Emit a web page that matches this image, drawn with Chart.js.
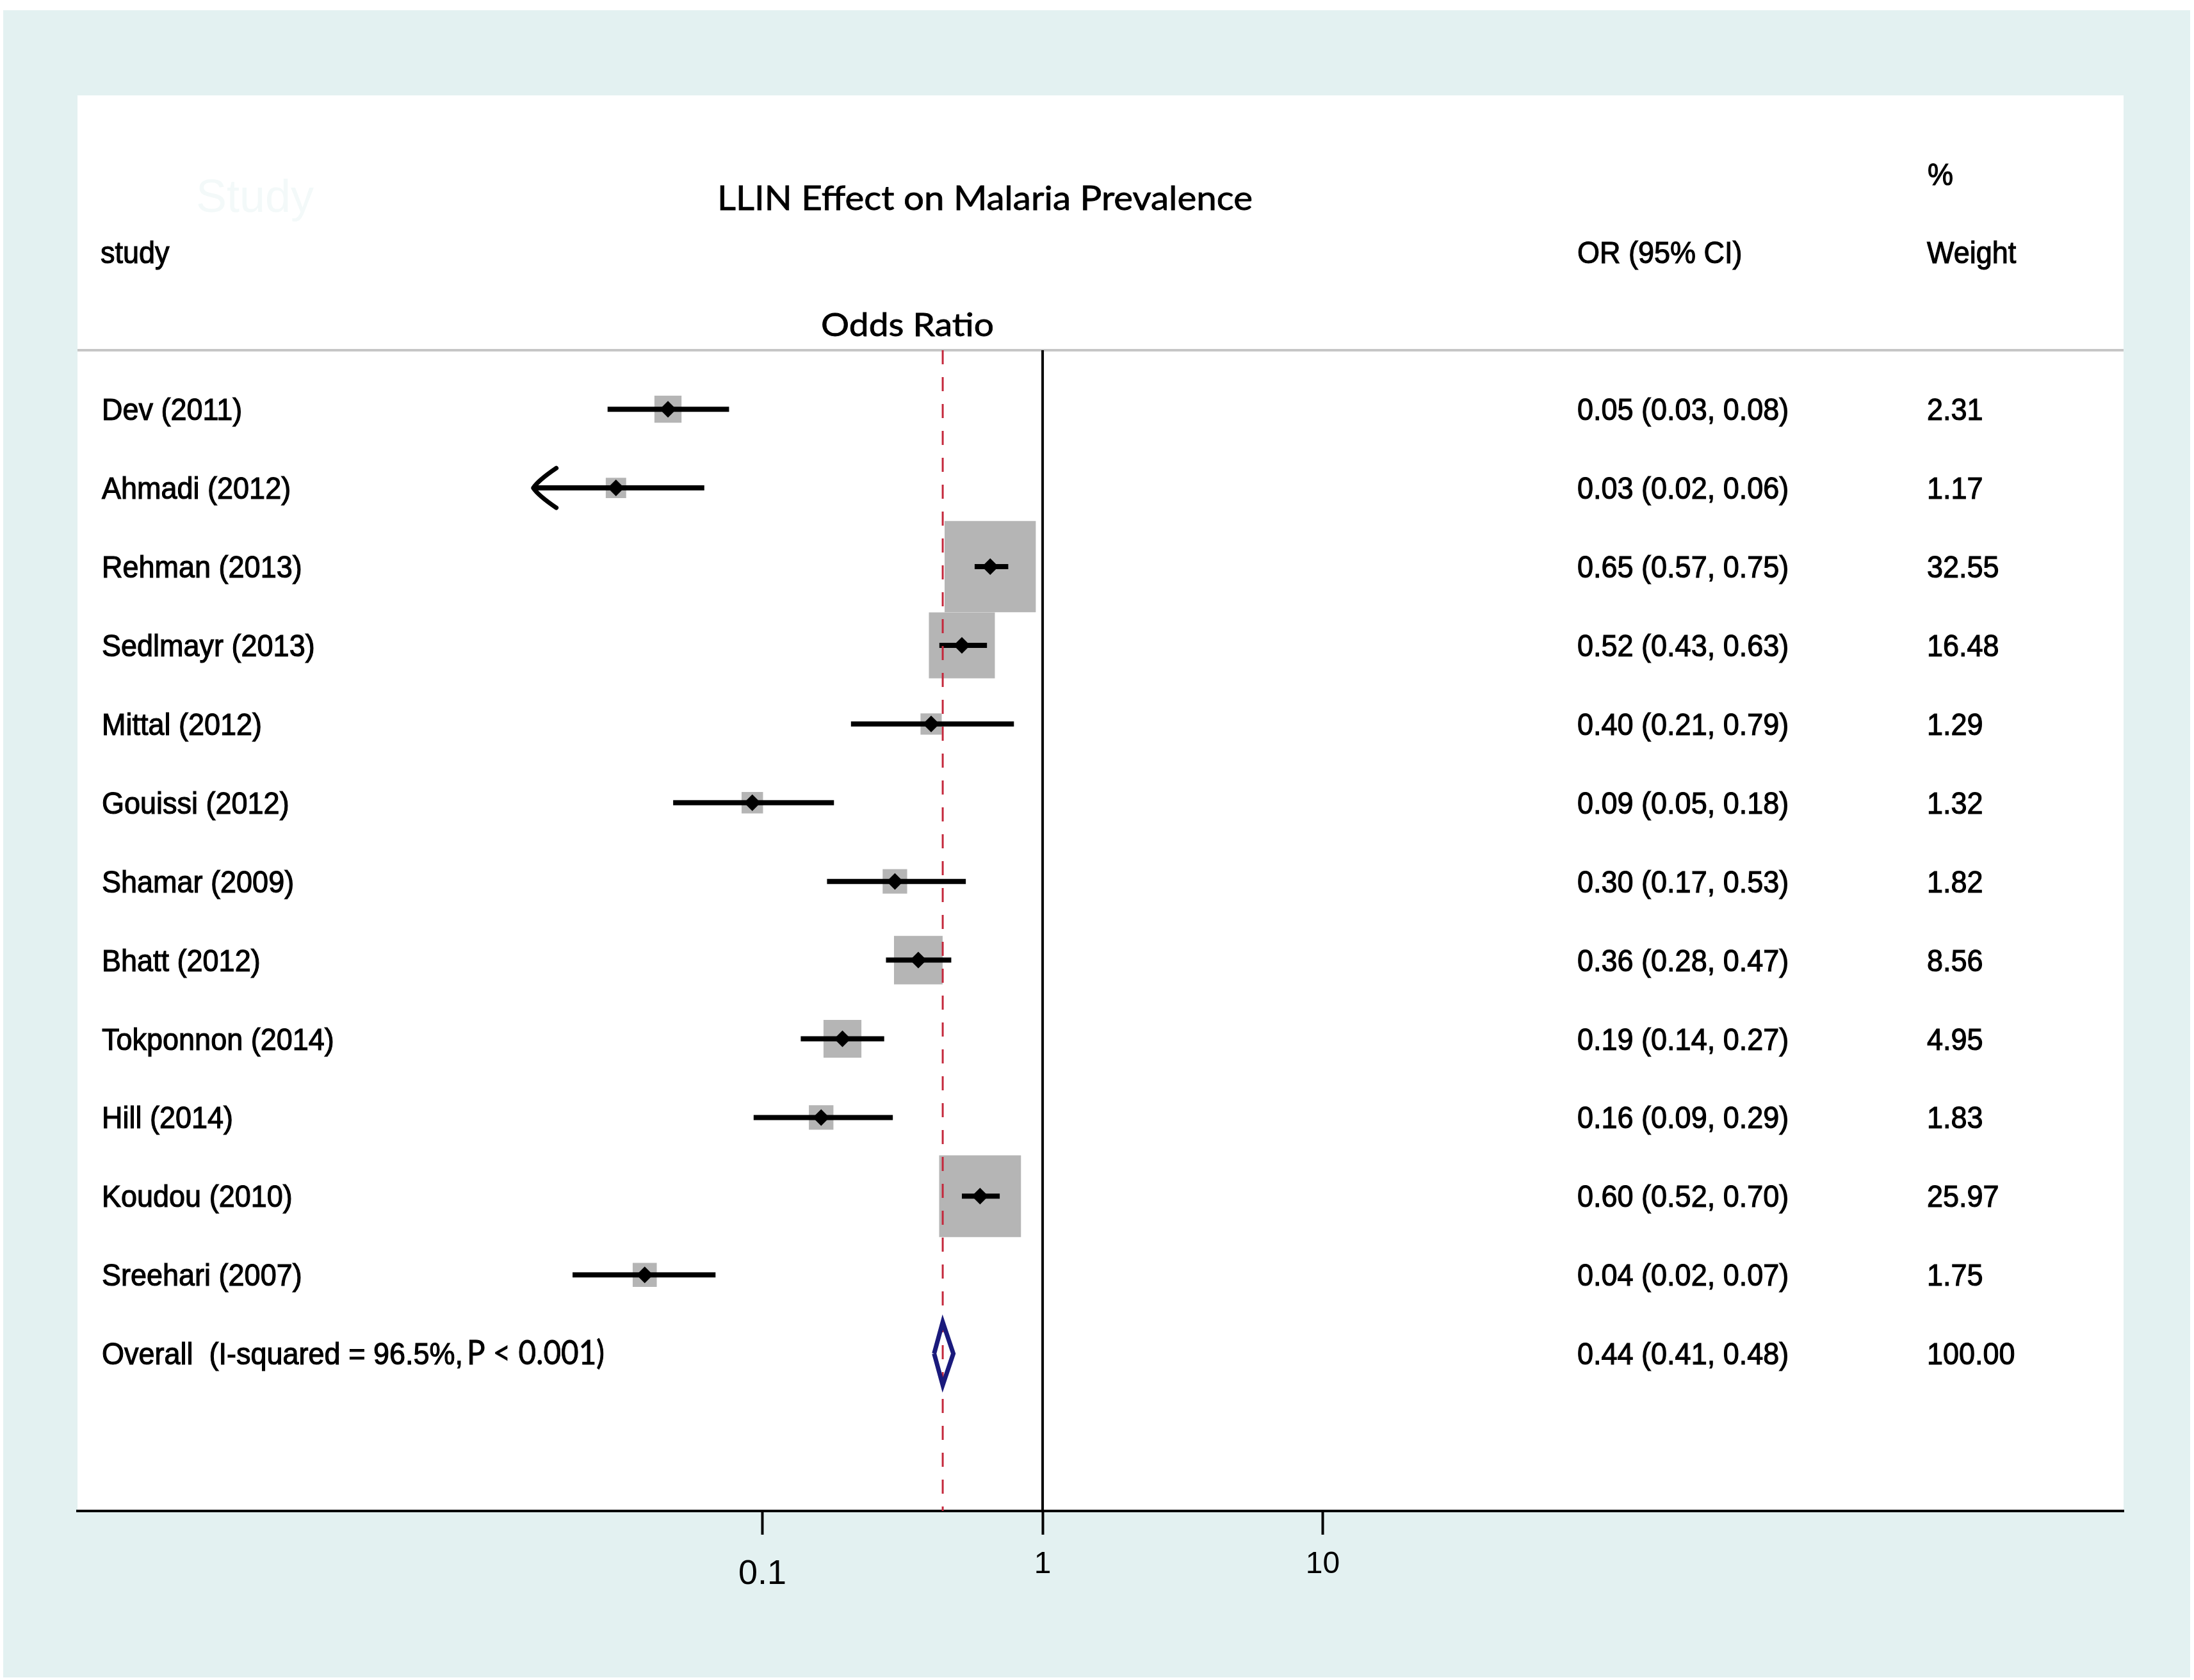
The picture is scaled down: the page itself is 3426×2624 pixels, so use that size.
<!DOCTYPE html>
<html>
<head>
<meta charset="utf-8">
<title>LLIN Effect on Malaria Prevalence</title>
<script src="https://cdn.jsdelivr.net/npm/chart.js@4.4.0/dist/chart.umd.min.js"></script>
<style>
  html, body { margin: 0; padding: 0; background: #ffffff; }
  #forest { display: block; width: 3426px; height: 2624px; }
</style>
</head>
<body>
<canvas id="forest" width="3426" height="2624"></canvas>
<script>
// Study rows (top to bottom)
const studies = ['Dev (2011)', 'Ahmadi (2012)', 'Rehman (2013)', 'Sedlmayr (2013)', 'Mittal (2012)',
    'Gouissi (2012)', 'Shamar (2009)', 'Bhatt (2012)', 'Tokponnon (2014)', 'Hill (2014)',
    'Koudou (2010)', 'Sreehari (2007)'];
const oddsRatio = [0.046, 0.030, 0.65, 0.515, 0.40, 0.092, 0.297, 0.36, 0.193, 0.162, 0.598, 0.038];
const ciLower = [0.028, 0.0152, 0.572, 0.428, 0.207, 0.048, 0.17, 0.276, 0.137, 0.093, 0.515, 0.021];
const ciUpper = [0.076, 0.062, 0.754, 0.633, 0.79, 0.18, 0.532, 0.472, 0.272, 0.292, 0.703, 0.068];
const weights = [2.31, 1.17, 32.55, 16.48, 1.29, 1.32, 1.82, 8.56, 4.95, 1.83, 25.97, 1.75];
const orLabels = ['0.05 (0.03, 0.08)', '0.03 (0.02, 0.06)', '0.65 (0.57, 0.75)', '0.52 (0.43, 0.63)',
    '0.40 (0.21, 0.79)', '0.09 (0.05, 0.18)', '0.30 (0.17, 0.53)', '0.36 (0.28, 0.47)',
    '0.19 (0.14, 0.27)', '0.16 (0.09, 0.29)', '0.60 (0.52, 0.70)', '0.04 (0.02, 0.07)'];
const weightLabels = ['2.31', '1.17', '32.55', '16.48', '1.29', '1.32', '1.82', '8.56', '4.95', '1.83', '25.97', '1.75'];
const arrowRows = [1]; // CI runs off to the left

// Pooled estimate
const overallOR = 0.44;
const overallLower = 0.41;
const overallUpper = 0.48;
const overallLabel = 'Overall  (I-squared = 96.5%,';
const overallStat = 'P < 0.001)';
const overallORLabel = '0.44 (0.41, 0.48)';
const overallWeightLabel = '100.00';

// Axis ticks
const xTickValues = [0.1, 1, 10];
const xTickLabels = ['0.1', '1', '10'];

// Texts
const chartTitle = 'LLIN Effect on Malaria Prevalence';
const axisTitle = 'Odds Ratio';
const headers = { study: 'study', or: 'OR (95% CI)', pct: '%', weight: 'Weight', ghost: 'Study' };

// Layout
const Y_MIN = -0.75;
const Y_MAX = 14;
const OVERALL_ROW = studies.length;
const ARIAL = '"Liberation Sans", Arial, sans-serif';
const CALIBRI = 'Lato, "Open Sans", sans-serif';

function boxSide(w) {
    return 23.9 * Math.sqrt(w) + 6;
}

function drawText(ctx, str, x, y, font, opts) {
    opts = opts || {};
    ctx.save();
    ctx.font = font;
    ctx.textBaseline = 'alphabetic';
    ctx.textAlign = opts.align || 'left';
    ctx.fillStyle = opts.color || '#000000';
    ctx.strokeStyle = opts.color || '#000000';
    ctx.translate(x, y);
    let sx = 1;
    if (opts.width) sx = opts.width / ctx.measureText(str).width;
    ctx.scale(sx, opts.sy || 1);
    ctx.fillText(str, 0, 0);
    if (opts.heavy) {
        ctx.lineWidth = opts.heavy;
        ctx.strokeText(str, 0, 0);
    }
    ctx.restore();
}

// Backgrounds, separator, header and table text
const forestDecor = {
    id: 'forestDecor',
    beforeDraw(chart) {
        const ctx = chart.ctx;
        const a = chart.chartArea;
        ctx.save();
        ctx.fillStyle = '#ffffff';
        ctx.fillRect(0, 0, chart.width, chart.height);
        ctx.fillStyle = '#e3f1f1';
        ctx.fillRect(5, 16, 3415, 2604);
        ctx.fillStyle = '#ffffff';
        ctx.fillRect(a.left, 149, a.right - a.left, a.bottom - 149);
        ctx.restore();
    },
    beforeDatasetsDraw(chart) {
        const ctx = chart.ctx;
        const a = chart.chartArea;
        ctx.save();
        ctx.strokeStyle = '#c6c6c6';
        ctx.lineWidth = 4;
        ctx.beginPath();
        ctx.moveTo(a.left, a.top);
        ctx.lineTo(a.right, a.top);
        ctx.stroke();
        ctx.restore();
    },
    afterDatasetsDraw(chart) {
        const ctx = chart.ctx;
        const xs = chart.scales.x;
        const ys = chart.scales.y;

        // arrow heads for truncated intervals
        arrowRows.forEach(i => {
            const px = xs.getPixelForValue(ciLower[i]);
            const py = ys.getPixelForValue(i);
            ctx.save();
            ctx.strokeStyle = '#000000';
            ctx.lineWidth = 7;
            ctx.lineCap = 'round';
            ctx.lineJoin = 'round';
            ctx.beginPath();
            ctx.moveTo(px + 36, py - 31);
            ctx.quadraticCurveTo(px + 8, py - 12, px, py);
            ctx.quadraticCurveTo(px + 8, py + 12, px + 36, py + 31);
            ctx.stroke();
            ctx.restore();
        });

        const f45 = '45px ' + ARIAL;
        const t = { sy: 1.08, heavy: 1.1 };

        // headers
        drawText(ctx, headers.ghost, 306, 331, '72px ' + ARIAL, { color: '#f3f9f9' });
        drawText(ctx, chartTitle, 1538, 328, '53px ' + CALIBRI, { align: 'center', width: 836, heavy: 0.8 });
        drawText(ctx, axisTitle, 1417, 525, '50px ' + CALIBRI, { align: 'center', width: 270, heavy: 0.8 });
        drawText(ctx, headers.study, 157, 411, f45, t);
        drawText(ctx, headers.or, 2463, 411, f45, t);
        drawText(ctx, headers.pct, 3010, 289, f45, t);
        drawText(ctx, headers.weight, 3009, 411, f45, t);

        // table rows
        studies.forEach((s, i) => {
            const base = ys.getPixelForValue(i) + 17;
            drawText(ctx, s, 159, base, f45, t);
            drawText(ctx, orLabels[i], 2463, base, f45, t);
            drawText(ctx, weightLabels[i], 3009, base, f45, t);
        });

        const ob = ys.getPixelForValue(OVERALL_ROW) + 17;
        drawText(ctx, overallLabel, 159, ob, f45, t);
        drawText(ctx, overallStat, 729, ob, '46px ' + CALIBRI, { sy: 1.12, width: 215, heavy: 0.8 });
        drawText(ctx, overallORLabel, 2463, ob, f45, t);
        drawText(ctx, overallWeightLabel, 3009, ob, f45, t);
    }
};

const rowIndex = studies.map((s, i) => i);

const ciDatasets = rowIndex.map(i => ({
    label: studies[i] + ' CI',
    data: [{ x: ciLower[i], y: i }, { x: ciUpper[i], y: i }],
    showLine: true,
    borderColor: '#000000',
    borderWidth: 8,
    borderCapStyle: 'butt',
    pointRadius: 0,
    order: 4
}));

const datasets = [
    {
        label: 'Weight boxes',
        data: rowIndex.map(i => ({ x: oddsRatio[i], y: i })),
        pointStyle: 'rect',
        pointRadius: c => boxSide(weights[c.dataIndex]) / Math.SQRT2,
        backgroundColor: '#b5b5b5',
        borderWidth: 0,
        order: 6
    },
    ...ciDatasets,
    {
        label: 'Point estimates',
        data: rowIndex.map(i => ({ x: oddsRatio[i], y: i })),
        pointStyle: 'rectRot',
        pointRadius: 13,
        backgroundColor: '#000000',
        borderWidth: 0,
        order: 3
    },
    {
        label: 'Null line',
        data: [{ x: 1, y: Y_MIN }, { x: 1, y: Y_MAX }],
        showLine: true,
        borderColor: '#000000',
        borderWidth: 4,
        pointRadius: 0,
        order: 2
    },
    {
        label: 'Pooled line',
        data: [{ x: overallOR, y: Y_MIN }, { x: overallOR, y: Y_MAX }],
        showLine: true,
        borderColor: '#c4283c',
        borderWidth: 3,
        borderDash: [22, 20],
        pointRadius: 0,
        order: 2
    },
    {
        label: 'Pooled estimate',
        data: [
            { x: overallLower, y: OVERALL_ROW },
            { x: overallOR, y: OVERALL_ROW - 0.4 },
            { x: overallUpper, y: OVERALL_ROW },
            { x: overallOR, y: OVERALL_ROW + 0.4 },
            { x: overallLower, y: OVERALL_ROW }
        ],
        showLine: true,
        borderColor: '#1a1a7c',
        borderWidth: 7,
        borderJoinStyle: 'miter',
        pointRadius: 0,
        order: 1
    }
];

new Chart(document.getElementById('forest'), {
    type: 'scatter',
    data: { datasets: datasets },
    options: {
        responsive: false,
        devicePixelRatio: 1,
        animation: false,
        events: [],
        layout: { padding: { left: 121, right: 110, top: 547, bottom: 124 } },
        plugins: {
            legend: { display: false },
            tooltip: { enabled: false },
            title: { display: false }
        },
        scales: {
            x: {
                type: 'logarithmic',
                min: 0.000359,
                max: 7216,
                afterBuildTicks: scale => {
                    scale.ticks = xTickValues.map(v => ({ value: v }));
                },
                afterFit: scale => {
                    scale.height = 140;
                },
                grid: {
                    drawOnChartArea: false,
                    drawTicks: true,
                    tickLength: 37,
                    tickColor: '#000000',
                    tickWidth: 4
                },
                border: { display: true, color: '#000000', width: 4 },
                ticks: {
                    autoSkip: false,
                    maxRotation: 0,
                    padding: 18,
                    color: '#000000',
                    font: c => (c.tick && c.tick.value === 0.1)
                        ? { family: ARIAL, size: 54, lineHeight: 1.65 }
                        : { family: ARIAL, size: 48, lineHeight: 1.2 },
                    callback: (value, index) => xTickLabels[index]
                }
            },
            y: {
                type: 'linear',
                display: false,
                reverse: true,
                min: Y_MIN,
                max: Y_MAX
            }
        }
    },
    plugins: [forestDecor]
});
</script>
</body>
</html>
